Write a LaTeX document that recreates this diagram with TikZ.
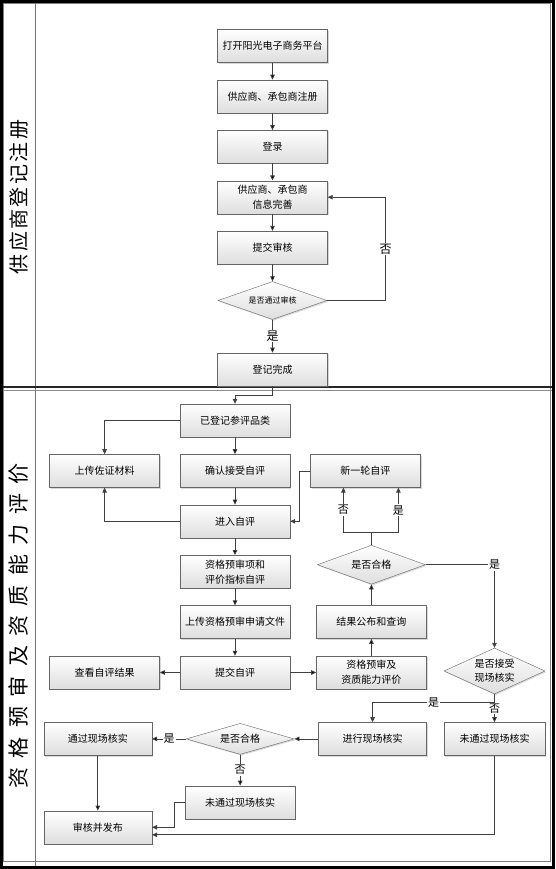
\documentclass[tikz,border=0pt]{standalone}
\usepackage{fontspec}
\setmainfont{Noto Sans CJK SC}
\newfontfamily\lanea{Noto Sans CJK SC}[LetterSpace=12]
\newfontfamily\laneb{Noto Sans CJK SC}[LetterSpace=45]
\usetikzlibrary{positioning,shapes.geometric,arrows.meta,shadows}

\begin{document}
\begin{tikzpicture}[x=1pt,y=1pt,node distance=17pt,
  box/.style={rectangle,draw=black!60,top color=white,bottom color=black!13,
    minimum width=110pt,minimum height=33pt,inner sep=1pt,align=center,
    font=\fontsize{10}{15}\selectfont,
    drop shadow={shadow xshift=1.2pt,shadow yshift=-1.2pt,opacity=.3}},
  dec/.style={diamond,draw=black!60,top color=white,bottom color=black!13,
    inner sep=0pt,shape aspect=3,align=center,font=\fontsize{10}{14}\selectfont,
    drop shadow={shadow xshift=1.2pt,shadow yshift=-1.2pt,opacity=.3}},
  arr/.style={draw=black!75,line width=.8pt,-{Triangle[length=5pt,width=4.5pt]}},
  lab/.style={fill=white,inner sep=1pt,font=\fontsize{11}{11}\selectfont},
  lane/.style={rotate=90,inner sep=0pt}]
  \useasboundingbox (0,0) rectangle (555,-869);

  \draw[black!50,line width=.8pt] (3.5,-3.5) rectangle (550,-861);
  \draw[black,line width=3pt] (1.5,-1.5) rectangle (553.5,-867.5);
  \draw[black!55,line width=1.5pt] (35.5,-3) -- (35.5,-866);
  \draw[black!85,line width=1.3pt] (3,-387) -- (552,-387);
  \draw[black!45,line width=.8pt] (3,-390) -- (552,-390);

  \node[lane,font=\lanea\fontsize{20}{20}\selectfont] (l1) at (19,-197) {供应商登记注册};
  \node[lane,font=\laneb\fontsize{21}{21}\selectfont] (l2) at (19,-626) {资格预审及资质能力评价};

  \node[box] (open) at (272.5,-46) {打开阳光电子商务平台};
  \node[box] (reg) [below=of open] {供应商、承包商注册};
  \node[box] (login) [below=of reg] {登录};
  \node[box] (info) [below=of login] {供应商、承包商\\信息完善};
  \node[box] (sub) [below=of info] {提交审核};
  \node[dec,minimum width=109pt,minimum height=38pt,font=\fontsize{8}{8}\selectfont] (chk) [below=of sub] {是否通过审核};
  \node[box] (done) [below=33pt of chk] {登记完成};

  \path[arr] (open) edge (reg)
             (reg) edge (login)
             (login) edge (info)
             (info) edge (sub)
             (sub) edge (chk)
             (chk) edge node[lab,font=\fontsize{12}{12}\selectfont] {是} (done);
  \draw[arr] (chk.east) -- ++(58.5,0) |- node[lab,pos=.25,font=\fontsize{12}{12}\selectfont] {否} (info.east);

  \node[box] (cat) at (235,-420.5) {已登记参评品类};
  \node[box] (conf) [below=of cat] {确认接受自评};
  \node[box] (evid) [left=20pt of conf] {上传佐证材料};
  \node[box] (newr) [right=20pt of conf] {新一轮自评};
  \node[box] (enter) [below=of conf] {进入自评};
  \node[box] (item) [below=of enter] {资格预审项和\\评价指标自评};
  \node[box] (file) [below=of item] {上传资格预审申请文件};
  \node[box] (self) [below=of file] {提交自评};
  \node[box] (view) [left=20pt of self] {查看自评结果};
  \node[box] (eval) [right=26pt of self] {资格预审及\\资质能力评价};
  \node[box] (pub) [above=of eval] {结果公布和查询};
  \node[dec,minimum width=108pt,minimum height=39pt] (ok) [above=21pt of pub] {是否合格};
  \node[dec,minimum width=101pt,minimum height=46pt,shape aspect=2.2] (acc) at (494.5,-671) {是否接受\\现场核实};
  \node[box,minimum width=101pt] (fail) [below=28pt of acc] {未通过现场核实};
  \node[box,minimum width=108pt] (site) [left=17pt of fail] {进行现场核实};
  \node[dec,minimum width=108pt,minimum height=31pt,shape aspect=3.5] (ok2) [left=24pt of site] {是否合格};
  \node[box,minimum width=108pt] (pass) [left=34pt of ok2] {通过现场核实};
  \node[box] (fail2) [below=31pt of ok2] {未通过现场核实};
  \node[box,minimum width=108pt] (rel) [below=55pt of pass] {审核并发布};

  \draw[arr] (done.south) -- ++(0,-9) -| (cat.north);
  \path[arr] (cat) edge (conf)
             (conf) edge (enter)
             (enter) edge (item)
             (item) edge (file)
             (file) edge (self)
             (self) edge (view)
             (self) edge (eval)
             (eval) edge (pub)
             (pub) edge (ok)
             (acc) edge node[lab] {否} (fail)
             (site) edge (ok2)
             (ok2) edge node[lab] {是} (pass)
             (ok2) edge node[lab] {否} (fail2)
             (pass) edge (rel);
  \draw[arr] (cat.west) -| (evid.north);
  \draw[arr] (enter.west) -| (evid.south);
  \draw[arr] (newr.west) -- ++(-11,0) |- (enter.east);
  \draw[draw=black!75,line width=.8pt] (ok.north) -- ++(0,12.5) coordinate (br);
  \draw[arr] (br) -- ++(-28,0) coordinate (bl) -- node[lab] {否} (bl |- newr.south);
  \draw[arr] (br) -- ++(27,0) coordinate (bx) -- node[lab] {是} (bx |- newr.south);
  \draw[arr] (ok.east) -| node[lab] {是} (acc.north);
  \draw[arr] (acc.south) -- ++(0,-8.5) -| node[lab,pos=.25] {是} (site.north);
  \draw[arr] (fail2.west) -- ++(-11,0) |- (rel.east);
  \draw[arr] (fail.south) |- ([yshift=-7.5pt]rel.east);
\end{tikzpicture}
\end{document}
